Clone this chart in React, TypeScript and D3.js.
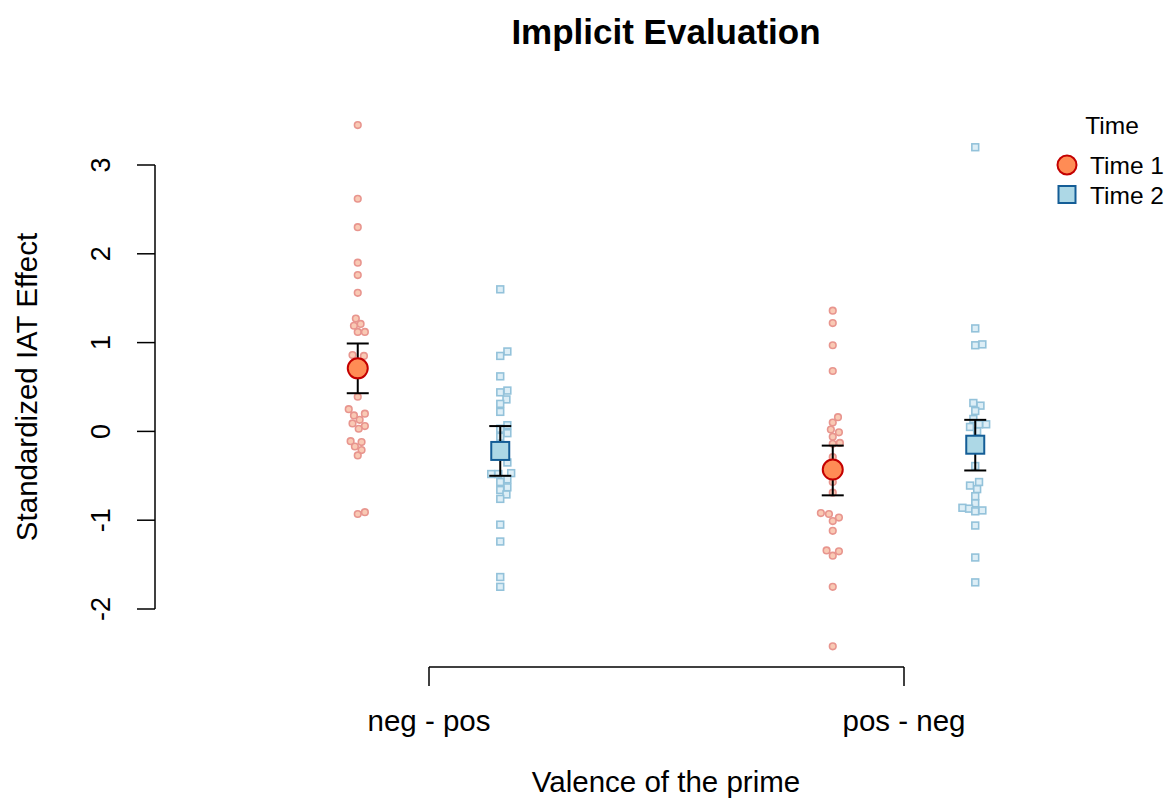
import React from "react";
import * as d3 from "d3";

const categories = ["neg - pos", "pos - neg"];
const timeLabels = ["Time 1", "Time 2"];
const yTicks = [-2, -1, 0, 1, 2, 3];

// raw observations (value, horizontal jitter in category units)
const t1NegPos = [3.45, 2.62, 2.30, 1.90, 1.76, 1.56, 1.27, 1.21, 1.19, 1.12, 1.12, 0.86, 0.85, 0.39, 0.25, 0.18, 0.20, 0.13, 0.09, 0.06, 0.03, -0.11, -0.12, -0.17, -0.21, -0.27, -0.93, -0.91];
const t1NegPosJit = [0, 0, 0, 0, 0, 0, -0.004, 0.006, -0.008, 0, 0.015, -0.011, 0.013, 0, -0.019, -0.008, 0.015, 0.004, -0.011, 0.015, 0.002, -0.015, 0.008, -0.006, 0.008, 0, 0, 0.015];

const t2NegPos = [1.60, 0.90, 0.85, 0.62, 0.46, 0.44, 0.36, 0.31, 0.22, 0.07, 0.03, -0.02, -0.06, -0.35, -0.48, -0.48, -0.47, -0.54, -0.57, -0.63, -0.66, -0.71, -0.76, -1.05, -1.24, -1.64, -1.75];
const t2NegPosJit = [0, 0.015, 0, 0, 0.015, 0, 0.013, 0, 0, 0.015, 0, 0.015, 0, 0.015, -0.019, -0.004, 0.023, 0.015, 0, 0.015, 0, 0.013, 0, 0, 0, 0, 0];

const t1PosNeg = [1.36, 1.22, 0.97, 0.68, 0.16, 0.10, 0.02, -0.01, -0.06, -0.13, -0.14, -0.29, -0.57, -0.69, -0.92, -0.93, -0.97, -1.01, -1.12, -1.34, -1.35, -1.40, -1.75, -2.42];
const t1PosNegJit = [0, 0, 0, 0, 0.011, 0, -0.004, 0.013, 0, 0.015, 0, 0, 0, 0, -0.025, -0.008, 0.013, 0, 0, -0.013, 0.013, 0, 0, 0];

const t2PosNeg = [3.20, 1.16, 0.97, 0.98, 0.32, 0.29, 0.23, 0.14, 0.05, 0.08, 0.08, 0.00, -0.39, -0.61, -0.57, -0.65, -0.73, -0.81, -0.86, -0.87, -0.90, -0.89, -1.06, -1.42, -1.70];
const t2PosNegJit = [0, 0, 0, 0.015, -0.004, 0.011, 0, -0.004, -0.011, 0.008, 0.023, 0.004, 0, -0.011, 0.008, 0.004, 0, 0, -0.027, -0.013, 0, 0.015, 0, 0, 0];

// estimated means and CI limits: [neg-pos, pos-neg]
const t1Means = [0.71, -0.43];
const t1Lower = [0.43, -0.72];
const t1Upper = [0.99, -0.16];
const t2Means = [-0.22, -0.15];
const t2Lower = [-0.50, -0.44];
const t2Upper = [0.06, 0.13];

const FONT = "'Liberation Sans', Arial, Helvetica, sans-serif";

export default function App() {
  const W = 1175, H = 799;
  const x = d3.scaleLinear().domain([1, 2]).range([429, 904]);
  const y = d3.scaleLinear().domain([-2, 3]).range([609, 165]);
  const off = 0.15;

  const groups = [
    { cat: 0, time: 0, vals: t1NegPos, jit: t1NegPosJit },
    { cat: 0, time: 1, vals: t2NegPos, jit: t2NegPosJit },
    { cat: 1, time: 0, vals: t1PosNeg, jit: t1PosNegJit },
    { cat: 1, time: 1, vals: t2PosNeg, jit: t2PosNegJit },
  ];
  const xc = (cat: number, time: number) => x(cat + 1 + (time === 0 ? -off : off));

  const summaries = [
    { time: 0, means: t1Means, lo: t1Lower, hi: t1Upper },
    { time: 1, means: t2Means, lo: t2Lower, hi: t2Upper },
  ];

  return (
    <svg width={W} height={H} style={{ position: "absolute", left: 0, top: 0 }} fontFamily={FONT}>
      <rect width={W} height={H} fill="#fff" />
      <text x={666} y={44} textAnchor="middle" fontSize={35} fontWeight="bold">Implicit Evaluation</text>

      {/* y axis */}
      <line x1={155} x2={155} y1={y(3)} y2={y(-2)} stroke="#000" strokeWidth={1.5} />
      {yTicks.map((t) => (
        <g key={t}>
          <line x1={137} x2={155} y1={y(t)} y2={y(t)} stroke="#000" strokeWidth={1.5} />
          <text transform={`translate(110,${y(t)}) rotate(-90)`} textAnchor="middle" fontSize={27}>{t}</text>
        </g>
      ))}
      <text transform={`translate(37,387) rotate(-90)`} textAnchor="middle" fontSize={29.5}>Standardized IAT Effect</text>

      {/* x axis */}
      <line x1={x(1)} x2={x(2)} y1={667} y2={667} stroke="#000" strokeWidth={1.5} />
      {categories.map((c, i) => (
        <g key={c}>
          <line x1={x(i + 1)} x2={x(i + 1)} y1={667} y2={686} stroke="#000" strokeWidth={1.5} />
          <text x={x(i + 1)} y={731} textAnchor="middle" fontSize={29.5}>{c}</text>
        </g>
      ))}
      <text x={666} y={792} textAnchor="middle" fontSize={29.5}>Valence of the prime</text>

      {/* raw points */}
      {groups.map((g, gi) => (
        <g key={gi}>
          {g.vals.map((v, i) => {
            const cx = x(g.cat + 1 + (g.time === 0 ? -off : off) + g.jit[i]);
            const cy = y(v);
            return g.time === 0 ? (
              <circle key={i} cx={cx} cy={cy} r={3.3} fill="#F9C9B4" stroke="#E8958E" strokeWidth={1.6} />
            ) : (
              <rect key={i} x={cx - 3.4} y={cy - 3.4} width={6.8} height={6.8} fill="#DDEEF6" stroke="#93C2DA" strokeWidth={1.6} />
            );
          })}
        </g>
      ))}

      {/* error bars and means */}
      {summaries.map((s) => (
        <g key={s.time}>
          {s.means.map((m, ci) => {
            const cx = xc(ci, s.time);
            return (
              <g key={ci}>
                <line x1={cx} x2={cx} y1={y(s.lo[ci])} y2={y(s.hi[ci])} stroke="#000" strokeWidth={2} />
                <line x1={cx - 11} x2={cx + 11} y1={y(s.lo[ci])} y2={y(s.lo[ci])} stroke="#000" strokeWidth={2} />
                <line x1={cx - 11} x2={cx + 11} y1={y(s.hi[ci])} y2={y(s.hi[ci])} stroke="#000" strokeWidth={2} />
                {s.time === 0 ? (
                  <circle cx={cx} cy={y(m)} r={10} fill="#FF8C55" stroke="#C40000" strokeWidth={2} />
                ) : (
                  <rect x={cx - 9} y={y(m) - 9} width={18} height={18} fill="#ADD8E6" stroke="#145D96" strokeWidth={2} />
                )}
              </g>
            );
          })}
        </g>
      ))}

      {/* legend */}
      <text x={1112} y={134} textAnchor="middle" fontSize={24.5}>Time</text>
      {timeLabels.map((t, i) => (
        <g key={t}>
          {i === 0 ? (
            <circle cx={1067} cy={165} r={9.5} fill="#FF8C55" stroke="#C40000" strokeWidth={2} />
          ) : (
            <rect x={1058.5} y={186} width={17} height={17} fill="#ADD8E6" stroke="#145D96" strokeWidth={2} />
          )}
          <text x={1090} y={174 + i * 30} fontSize={24.5}>{t}</text>
        </g>
      ))}
    </svg>
  );
}
